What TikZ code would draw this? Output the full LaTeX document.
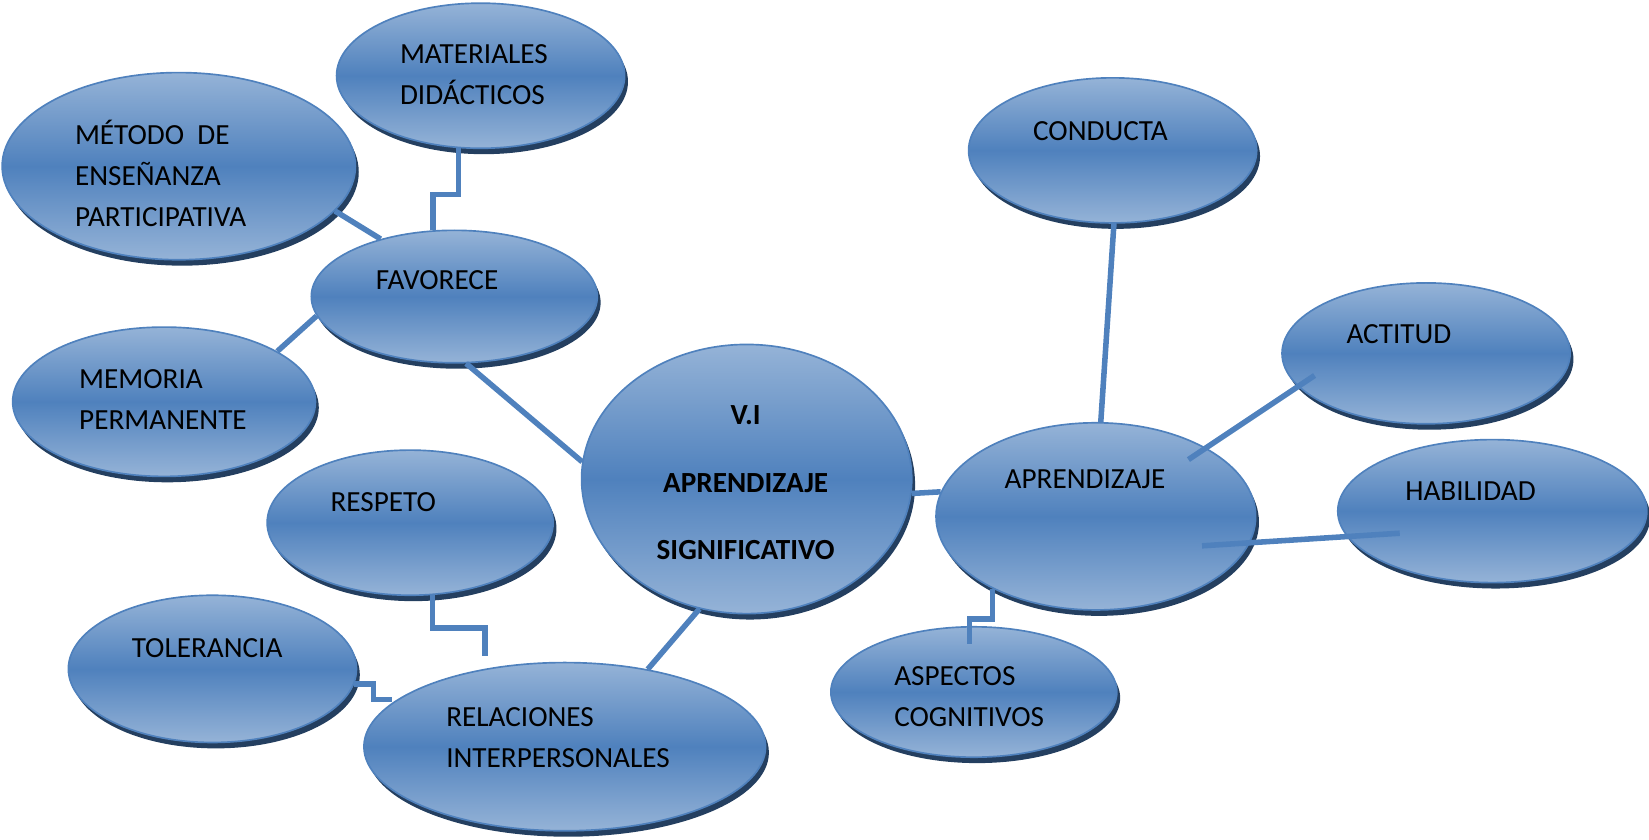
\documentclass[tikz,border=0pt]{standalone}
\usepackage{fontspec}
\setmainfont{Carlito}
\usepackage{xcolor}
\usepackage{tikz}
\usetikzlibrary{shapes.geometric, shadows, calc}

\definecolor{blueM}{HTML}{4F81BD}
\definecolor{blueL}{HTML}{95B3D7}
\definecolor{blueS}{HTML}{243F60}

\begin{document}
\begin{tikzpicture}[
    x=0.02cm, y=-0.02cm,
    bubble/.style={ellipse, draw=blueM, line width=0.9pt, inner sep=0pt,
        top color=blueL, bottom color=blueL, middle color=blueM,
        drop shadow={shadow xshift=1.8pt, shadow yshift=-3.2pt, fill=blueS, opacity=1}},
    txt/.style={anchor=west, align=left, inner sep=0pt, font=\fontsize{15.8}{22.3}\selectfont},
    txtB/.style={anchor=center, align=center, inner sep=0pt, font=\fontsize{15.8}{36.4}\selectfont\bfseries},
    link/.style={draw=blueM, line width=3pt}
]
\useasboundingbox (0,0) rectangle (1568,798);

\node[bubble, minimum width=5.48cm, minimum height=2.76cm] (mat) at (457,72) {};
\node[bubble, minimum width=6.72cm, minimum height=3.56cm] (met) at (170,158) {};
\node[bubble, minimum width=5.44cm, minimum height=2.52cm] (fav) at (432,282) {};
\node[bubble, minimum width=5.76cm, minimum height=2.84cm] (mem) at (156,382) {};
\node[bubble, minimum width=6.28cm, minimum height=5.12cm] (vi) at (710,455.5) {};
\node[bubble, minimum width=5.44cm, minimum height=2.76cm] (res) at (390,497) {};
\node[bubble, minimum width=5.48cm, minimum height=2.80cm] (tol) at (202,636) {};
\node[bubble, minimum width=7.64cm, minimum height=3.20cm] (rel) at (537,710) {};
\node[bubble, minimum width=5.48cm, minimum height=2.76cm] (con) at (1058,143) {};
\node[bubble, minimum width=5.48cm, minimum height=2.68cm] (act) at (1356,336) {};
\node[bubble, minimum width=6.08cm, minimum height=3.56cm] (apr) at (1042,491) {};
\node[bubble, minimum width=5.88cm, minimum height=2.72cm] (hab) at (1419,486) {};
\node[bubble, minimum width=5.44cm, minimum height=2.48cm] (asp) at (926,658) {};

\node[txt] (matT) at (380,71) {MATERIALES\\DIDÁCTICOS};
\node[txt] (metT) at (71,165) {MÉTODO\ \ DE\\ENSEÑANZA\\PARTICIPATIVA};
\node[txt] (favT) at (357,266) {FAVORECE};
\node[txt] (memT) at (75,380) {MEMORIA\\PERMANENTE};
\node[txtB] (viT) at (709,459) {V.I\\APRENDIZAJE\\SIGNIFICATIVO};
\node[txt] (resT) at (314,477) {RESPETO};
\node[txt] (tolT) at (125,616) {TOLERANCIA};
\node[txt] (relT) at (424,701.5) {RELACIONES\\INTERPERSONALES};
\node[txt] (conT) at (982,125) {CONDUCTA};
\node[txt] (actT) at (1280,318) {ACTITUD};
\node[txt] (aprT) at (955,456) {APRENDIZAJE};
\node[txt] (habT) at (1336,467) {HABILIDAD};
\node[txt] (aspT) at (850,662.5) {ASPECTOS\\COGNITIVOS};

\draw[link] (mat.-107) -- ++(0,44) -| (fav.108);
\draw[link] (met.-16) -- (fav.142);
\draw[link] (mem.24) -- (fav.188);
\draw[link] (fav.-80) -- (vi.174);
\draw[link] (vi.-5) -- (apr.171);
\draw[link] (con.-89) -- (apr.87);
\draw[link] ($(apr)+(88,-54)$) -- ($(act)+(-106,21)$);
\draw[link] ($(apr)+(101,28)$) -- ($(hab)+(-88,21)$);
\draw[link] (apr.-145) -- ++(0,29) -| ($(asp)+(-4,-46)$);
\draw[link] (vi.-110) -- (rel.43);
\draw[link] (res.-73) -- ++(0,31) -| ($(rel)+(-76,-86)$);
\draw[link] (tol.-6) -- ++(18,0) |- ($(rel)+(-164,-45)$);

\end{tikzpicture}
\end{document}
